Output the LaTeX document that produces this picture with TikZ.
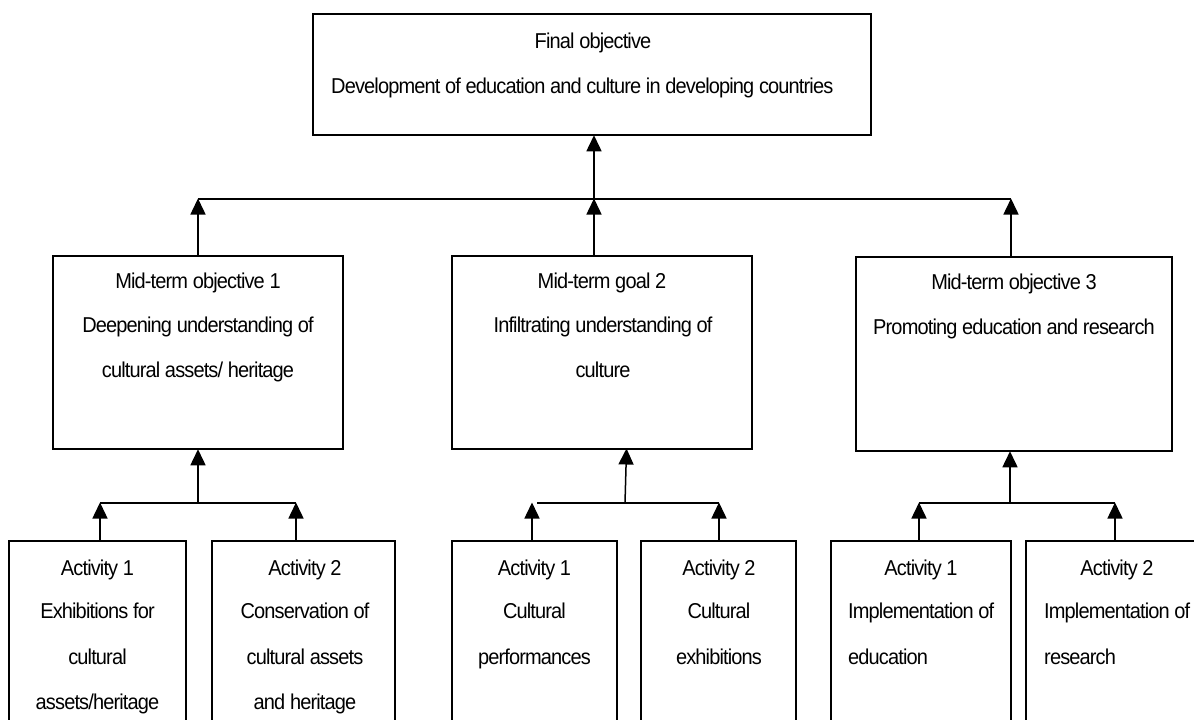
\documentclass[tikz,border=0pt]{standalone}
\usepackage{fontspec}
\setmainfont{Liberation Sans}[FakeStretch=0.93,LetterSpace=-4]
\usetikzlibrary{arrows.meta}
\tikzset{
  boxnode/.style={draw, line width=1.5pt, rectangle, inner sep=0pt},
  lbl/.style={font=\fontsize{21.5}{25}\selectfont, inner sep=0pt, anchor=base},
  lblw/.style={lbl, anchor=base west},
  ln/.style={line width=1.5pt},
  arr/.style={line width=1.5pt, -{Triangle[width=15pt,length=16pt]}, shorten >=-0.5pt}
}
\begin{document}
\begin{tikzpicture}[x=1pt,y=-1pt]
\useasboundingbox (0,0) rectangle (1194,720);
\clip (0,0) rectangle (1194,720);
\fill[white] (0,0) rectangle (1194,720);

% boxes
\node[boxnode, minimum width=558pt, minimum height=121pt] (top) at (592,74.5) {};
\node[boxnode, minimum width=290pt, minimum height=193pt] (mid1) at (198,352.5) {};
\node[boxnode, minimum width=300pt, minimum height=193pt] (mid2) at (602,352.5) {};
\node[boxnode, minimum width=316pt, minimum height=194pt] (mid3) at (1014,354) {};
\node[boxnode, minimum width=177pt, minimum height=219pt] (a11) at (97.5,650.5) {};
\node[boxnode, minimum width=183pt, minimum height=219pt] (a12) at (303.5,650.5) {};
\node[boxnode, minimum width=165pt, minimum height=219pt] (a21) at (534.5,650.5) {};
\node[boxnode, minimum width=155pt, minimum height=219pt] (a22) at (718.5,650.5) {};
\node[boxnode, minimum width=180pt, minimum height=219pt] (a31) at (921,650.5) {};
\node[boxnode, minimum width=182pt, minimum height=219pt] (a32) at (1117,650.5) {};

% texts
\node[lbl] (t1) at (593,48) {Final objective};
\node[lblw] (t2) at (331,93) {Development of education and culture in developing countries};

\node[lbl] (m1a) at (198,288) {Mid-term objective 1};
\node[lbl] (m1b) at (198,332) {Deepening understanding of};
\node[lbl] (m1c) at (198,377) {cultural assets/ heritage};

\node[lbl] (m2a) at (602,288) {Mid-term goal 2};
\node[lbl] (m2b) at (603,332) {Infiltrating understanding of};
\node[lbl] (m2c) at (603,377) {culture};

\node[lbl] (m3a) at (1014,289) {Mid-term objective 3};
\node[lbl] (m3b) at (1014,334) {Promoting education and research};

\node[lbl] (x11a) at (97.5,575) {Activity 1};
\node[lbl] (x11b) at (97.5,618) {Exhibitions for};
\node[lbl] (x11c) at (97.5,664) {cultural};
\node[lbl] (x11d) at (97.5,709) {assets/heritage};

\node[lbl] (x12a) at (305,575) {Activity 2};
\node[lbl] (x12b) at (305,618) {Conservation of};
\node[lbl] (x12c) at (305,664) {cultural assets};
\node[lbl] (x12d) at (305,709) {and heritage};

\node[lbl] (x21a) at (534.5,575) {Activity 1};
\node[lbl] (x21b) at (534.5,618) {Cultural};
\node[lbl] (x21c) at (534.5,664) {performances};

\node[lbl] (x22a) at (719,575) {Activity 2};
\node[lbl] (x22b) at (719,618) {Cultural};
\node[lbl] (x22c) at (719,664) {exhibitions};

\node[lbl] (x31a) at (921,575) {Activity 1};
\node[lblw] (x31b) at (848,618) {Implementation of};
\node[lblw] (x31c) at (848,664) {education};

\node[lbl] (x32a) at (1117,575) {Activity 2};
\node[lblw] (x32b) at (1044,618) {Implementation of};
\node[lblw] (x32c) at (1044,664) {research};

% upper connectors
\coordinate (j0) at (594,199);
\coordinate (j1) at (198,199);
\coordinate (j3) at (1011,199);
\draw[ln] (j1) -- (j3);
\draw[arr] (j0) -- (top.south -| j0);
\draw[arr] (mid1.north -| j1) -- (j1);
\draw[arr] (mid2.north -| j0) -- (j0);
\draw[arr] (mid3.north -| j3) -- (j3);

% group 1
\coordinate (g1) at (198,503);
\coordinate (g1l) at (100,503);
\coordinate (g1r) at (296,503);
\draw[ln] (g1l) -- (g1r);
\draw[arr] (g1) -- (mid1.south -| g1);
\draw[arr] (a11.north -| g1l) -- (g1l);
\draw[arr] (a12.north -| g1r) -- (g1r);

% group 2
\coordinate (g2) at (625,503);
\coordinate (g2t) at (626.5,449);
\coordinate (g2l) at (532,503);
\coordinate (g2r) at (719,503);
\draw[ln] (537,503) -- (g2r);
\draw[arr] (g2) -- (g2t);
\draw[arr] (a21.north -| g2l) -- (g2l);
\draw[arr] (a22.north -| g2r) -- (g2r);

% group 3
\coordinate (g3) at (1010,503);
\coordinate (g3l) at (919,503);
\coordinate (g3r) at (1115,503);
\draw[ln] (g3l) -- (g3r);
\draw[arr] (g3) -- (mid3.south -| g3);
\draw[arr] (a31.north -| g3l) -- (g3l);
\draw[arr] (a32.north -| g3r) -- (g3r);
\end{tikzpicture}
\end{document}
